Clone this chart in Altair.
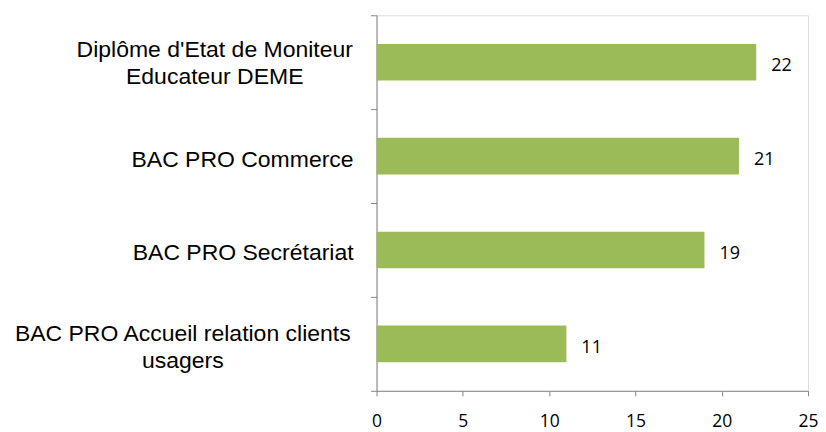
import altair as alt
import pandas as pd

categories = [
    "Diplôme d'Etat de Moniteur\nEducateur DEME",
    "BAC PRO Commerce",
    "BAC PRO Secrétariat",
    "BAC PRO Accueil relation clients\nusagers",
]
values = [22, 21, 19, 11]
x_ticks = [0, 5, 10, 15, 20, 25]

df = pd.DataFrame({"cat": categories, "val": values})

AXIS_GREY = "#868686"
BAR_GREEN = "#9BBB59"
CAT_FONT = "Liberation Sans"
NUM_FONT = "Open Sans"

y_enc = alt.Y(
    "cat:N",
    sort=categories,
    scale=alt.Scale(paddingInner=0, paddingOuter=0),
    axis=alt.Axis(
        title=None,
        labels=False,
        tickBand="extent",
        tickSize=6,
        tickColor=AXIS_GREY,
        domainColor=AXIS_GREY,
        grid=False,
    ),
)

x_enc = alt.X(
    "val:Q",
    scale=alt.Scale(domain=[0, 25], nice=False),
    axis=alt.Axis(
        title=None,
        values=x_ticks,
        labelFont=NUM_FONT,
        labelFontSize=17.5,
        labelColor="#000000",
        labelPadding=17,
        labelFlush=False,
        tickSize=5,
        tickColor=AXIS_GREY,
        domainColor=AXIS_GREY,
        grid=False,
    ),
)

base = alt.Chart(df)

bars = base.mark_bar(color=BAR_GREEN, height=alt.RelativeBandSize(0.39)).encode(
    x=x_enc, y=y_enc
)

value_labels = base.mark_text(
    align="left", baseline="middle", dx=15, dy=4, font=NUM_FONT, fontSize=18, color="#000000"
).encode(x=alt.X("val:Q"), y=alt.Y("cat:N", sort=categories), text="val:Q")

cat_base = base.transform_calculate(
    lines="split(datum.cat, '\\n')", nlines="length(split(datum.cat, '\\n'))"
)
cat_style = dict(baseline="middle", font=CAT_FONT, fontSize=23, lineHeight=27, color="#000000")

cat_single = cat_base.transform_filter("datum.nlines == 1").mark_text(
    align="right", dy=3.5, **cat_style
).encode(x=alt.value(-23), y=alt.Y("cat:N", sort=categories), text="lines:N")

cat_first = cat_base.transform_filter("indexof(datum.cat, 'Diplôme') >= 0").mark_text(
    align="center", dy=-12.5, **cat_style
).encode(x=alt.value(-162), y=alt.Y("cat:N", sort=categories), text="lines:N")

cat_last = cat_base.transform_filter("indexof(datum.cat, 'Accueil') >= 0").mark_text(
    align="center", dy=-10, **cat_style
).encode(x=alt.value(-194), y=alt.Y("cat:N", sort=categories), text="lines:N")

chart = (
    alt.layer(bars, value_labels, cat_single, cat_first, cat_last)
    .properties(
        width=432,
        height=376,
        autosize="none",
        padding={"left": 369, "top": 7, "right": 10, "bottom": 40},
    )
    .configure_view(strokeWidth=0)
    .configure(background="white")
)

chart.save("out.html", embed_options={"renderer": "svg", "actions": False})
